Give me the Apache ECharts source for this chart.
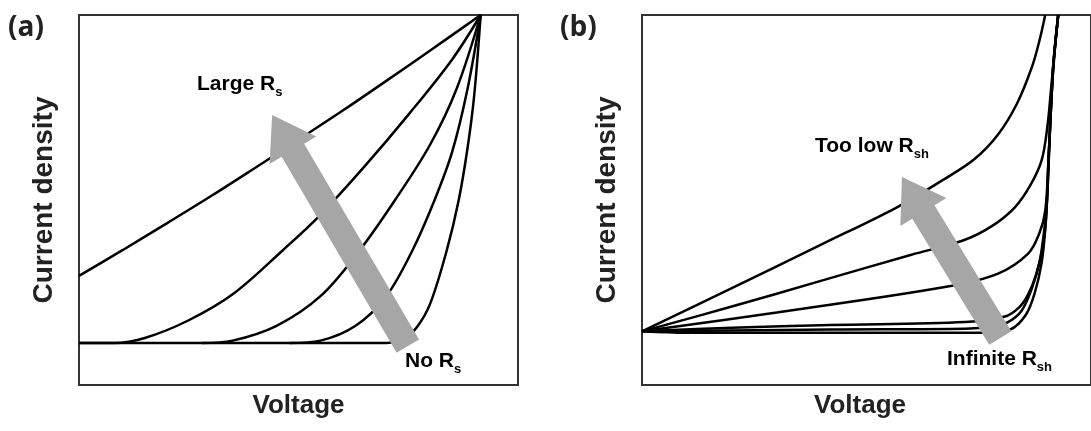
<!DOCTYPE html>
<html>

<head>
    <meta charset="utf-8">
    <title>J-V curves: series and shunt resistance</title>
    <script src="https://cdn.jsdelivr.net/npm/echarts@6/dist/echarts.min.js"></script>
    <style>
        html, body { margin: 0; padding: 0; background: #fff; }
    </style>
</head>

<body>
    <div id="main" style="width: 1091px;height:431px;"></div>

    <script type="text/javascript">
        // panel (a): effect of series resistance, [voltage, current density] (normalised)
        var rsLarge = [[0, 0.295], [0.1, 0.365], [0.2, 0.437], [0.3, 0.51], [0.4, 0.586], [0.5, 0.663], [0.6, 0.741], [0.7, 0.822], [0.8, 0.904], [0.915, 1.0]];
        var rsMid1 = [[0, 0.1135], [0.08, 0.1135], [0.15, 0.127], [0.25, 0.175], [0.35, 0.245], [0.465, 0.365], [0.55, 0.46], [0.65, 0.59], [0.75, 0.73], [0.85, 0.88], [0.915, 1.0]];
        var rsMid2 = [[0.28, 0.1135], [0.35, 0.12], [0.45, 0.16], [0.55, 0.24], [0.64, 0.365], [0.72, 0.5], [0.8, 0.65], [0.86, 0.8], [0.915, 1.0]];
        var rsMid3 = [[0.48, 0.1135], [0.55, 0.12], [0.63, 0.16], [0.7, 0.24], [0.76, 0.365], [0.81, 0.5], [0.85, 0.63], [0.885, 0.8], [0.915, 1.0]];
        var rsNone = [[0, 0.1135], [0.7, 0.1135], [0.74, 0.125], [0.77, 0.157], [0.8, 0.22], [0.838, 0.365], [0.865, 0.5], [0.885, 0.64], [0.9, 0.78], [0.915, 1.0]];

        // panel (b): effect of shunt resistance
        var rshTooLow = [[0, 0.145], [0.2, 0.262], [0.4, 0.38], [0.569, 0.481], [0.666, 0.551], [0.74, 0.61], [0.793, 0.677], [0.835, 0.76], [0.868, 0.858], [0.885, 0.93], [0.898, 1.0]];
        var rshLow = [[0, 0.145], [0.2, 0.212], [0.4, 0.282], [0.6, 0.352], [0.718, 0.392], [0.78, 0.43], [0.831, 0.481], [0.865, 0.54], [0.89, 0.607], [0.903, 0.7], [0.911, 0.8], [0.917, 0.878], [0.927, 1.0]];
        var rshMid = [[0, 0.145], [0.3, 0.196], [0.681, 0.266], [0.793, 0.301], [0.86, 0.355], [0.885, 0.41], [0.898, 0.47], [0.905, 0.6], [0.911, 0.75], [0.917, 0.878], [0.927, 1.0]];
        var rshHigh = [[0, 0.145], [0.2, 0.155], [0.42, 0.162], [0.72, 0.17], [0.808, 0.185], [0.84, 0.21], [0.86, 0.245], [0.878, 0.3], [0.892, 0.37], [0.9, 0.45], [0.905, 0.6], [0.911, 0.75], [0.917, 0.878], [0.927, 1.0]];
        var rshHigher = [[0, 0.145], [0.42, 0.15], [0.72, 0.152], [0.78, 0.158], [0.815, 0.17], [0.845, 0.2], [0.868, 0.26], [0.885, 0.33], [0.895, 0.41], [0.902, 0.5], [0.907, 0.65], [0.913, 0.8], [0.919, 0.9], [0.927, 1.0]];
        var rshInfinite = [[0, 0.145], [0.1, 0.141], [0.42, 0.141], [0.76, 0.141], [0.82, 0.15], [0.855, 0.19], [0.875, 0.25], [0.89, 0.33], [0.898, 0.42], [0.904, 0.55], [0.909, 0.7], [0.915, 0.85], [0.921, 0.93], [0.927, 1.0]];

        // trend arrows: [tailV, tailJ, tipV, tipJ]
        var arrowA = [[0.749, 0.105, 0.44, 0.73]];
        var arrowB = [[0.798, 0.127, 0.579, 0.562]];

        var dom = document.getElementById('main');
        var myChart = echarts.init(dom, null, { renderer: 'canvas' });

        var FONT = '"Liberation Sans", Arial, sans-serif';

        function curve(data, idx) {
            return {
                type: 'line',
                xAxisIndex: idx,
                yAxisIndex: idx,
                data: data,
                symbol: 'none',
                smooth: 0.35,
                lineStyle: { color: '#000', width: 2.5 },
                z: 2
            };
        }

        // fat grey arrow, built in pixel space from the two data points
        function renderArrow(params, api) {
            var p0 = api.coord([api.value(0), api.value(1)]);
            var p1 = api.coord([api.value(2), api.value(3)]);
            var dx = p1[0] - p0[0], dy = p1[1] - p0[1];
            var len = Math.sqrt(dx * dx + dy * dy);
            var ux = dx / len, uy = dy / len;
            var nx = -uy, ny = ux;
            var H = 41, W = 27, S = 13;
            var bx = p0[0] + ux * (len - H), by = p0[1] + uy * (len - H);
            var pts = [
                [p0[0] + nx * S, p0[1] + ny * S],
                [bx + nx * S, by + ny * S],
                [bx + nx * W, by + ny * W],
                [p1[0], p1[1]],
                [bx - nx * W, by - ny * W],
                [bx - nx * S, by - ny * S],
                [p0[0] - nx * S, p0[1] - ny * S]
            ];
            return {
                type: 'polygon',
                shape: { points: pts },
                style: { fill: '#a6a6a6' }
            };
        }

        function arrow(data, idx) {
            return {
                type: 'custom',
                xAxisIndex: idx,
                yAxisIndex: idx,
                data: data,
                encode: { x: [0, 2], y: [1, 3] },
                renderItem: renderArrow,
                clip: false,
                z: 5
            };
        }

        function axisX(idx, pad) {
            return {
                type: 'value', gridIndex: idx, min: 0, max: 1,
                name: 'Voltage', nameLocation: 'middle', nameGap: 8,
                nameTextStyle: { fontFamily: FONT, fontSize: 26, fontWeight: 'bold', color: '#222', padding: pad },
                axisLine: { show: false }, axisTick: { show: false },
                axisLabel: { show: false }, splitLine: { show: false }
            };
        }

        function axisY(idx) {
            return {
                type: 'value', gridIndex: idx, min: 0, max: 1,
                name: 'Current density', nameLocation: 'middle', nameGap: 21,
                nameTextStyle: { fontFamily: FONT, fontSize: 28, fontWeight: 'bold', color: '#222' },
                axisLine: { show: false }, axisTick: { show: false },
                axisLabel: { show: false }, splitLine: { show: false }
            };
        }

        function sub(main, s, x, y) {
            return {
                type: 'text', left: x, top: y, z: 10,
                style: {
                    text: '{a|' + main + '}{s|' + s + '}',
                    rich: {
                        a: { fontFamily: FONT, fontSize: 21, fontWeight: 'bold', color: '#222', lineHeight: 28 },
                        s: { fontFamily: FONT, fontSize: 13, fontWeight: 'bold', color: '#222', lineHeight: 13, verticalAlign: 'bottom' }
                    }
                }
            };
        }

        var option = {
            animation: false,
            grid: [
                { left: 79, top: 15, width: 439, height: 370, show: true, borderColor: '#333', borderWidth: 2 },
                { left: 642, top: 15, width: 451, height: 370, show: true, borderColor: '#333', borderWidth: 2 }
            ],
            xAxis: [axisX(0, [0, 0, 0, 0]), axisX(1, [0, 13, 0, 0])],
            yAxis: [axisY(0), axisY(1)],
            graphic: [
                { type: 'text', left: 8, top: 14, style: { text: '(a)', font: 'bold 28px "Open Sans", sans-serif', fill: '#222' } },
                { type: 'text', left: 560, top: 14, style: { text: '(b)', font: 'bold 28px "Open Sans", sans-serif', fill: '#222' } },
                sub('Large R', 's', 197, 74),
                sub('No R', 's', 405, 351),
                sub('Too low R', 'sh', 815, 136),
                sub('Infinite R', 'sh', 947, 349)
            ],
            series: [
                curve(rsLarge, 0), curve(rsMid1, 0), curve(rsMid2, 0), curve(rsMid3, 0), curve(rsNone, 0),
                curve(rshTooLow, 1), curve(rshLow, 1), curve(rshMid, 1), curve(rshHigh, 1), curve(rshHigher, 1), curve(rshInfinite, 1),
                arrow(arrowA, 0), arrow(arrowB, 1)
            ]
        };

        if (option && typeof option === 'object') {
            myChart.setOption(option, true);
        }
    </script>
</body>

</html>
